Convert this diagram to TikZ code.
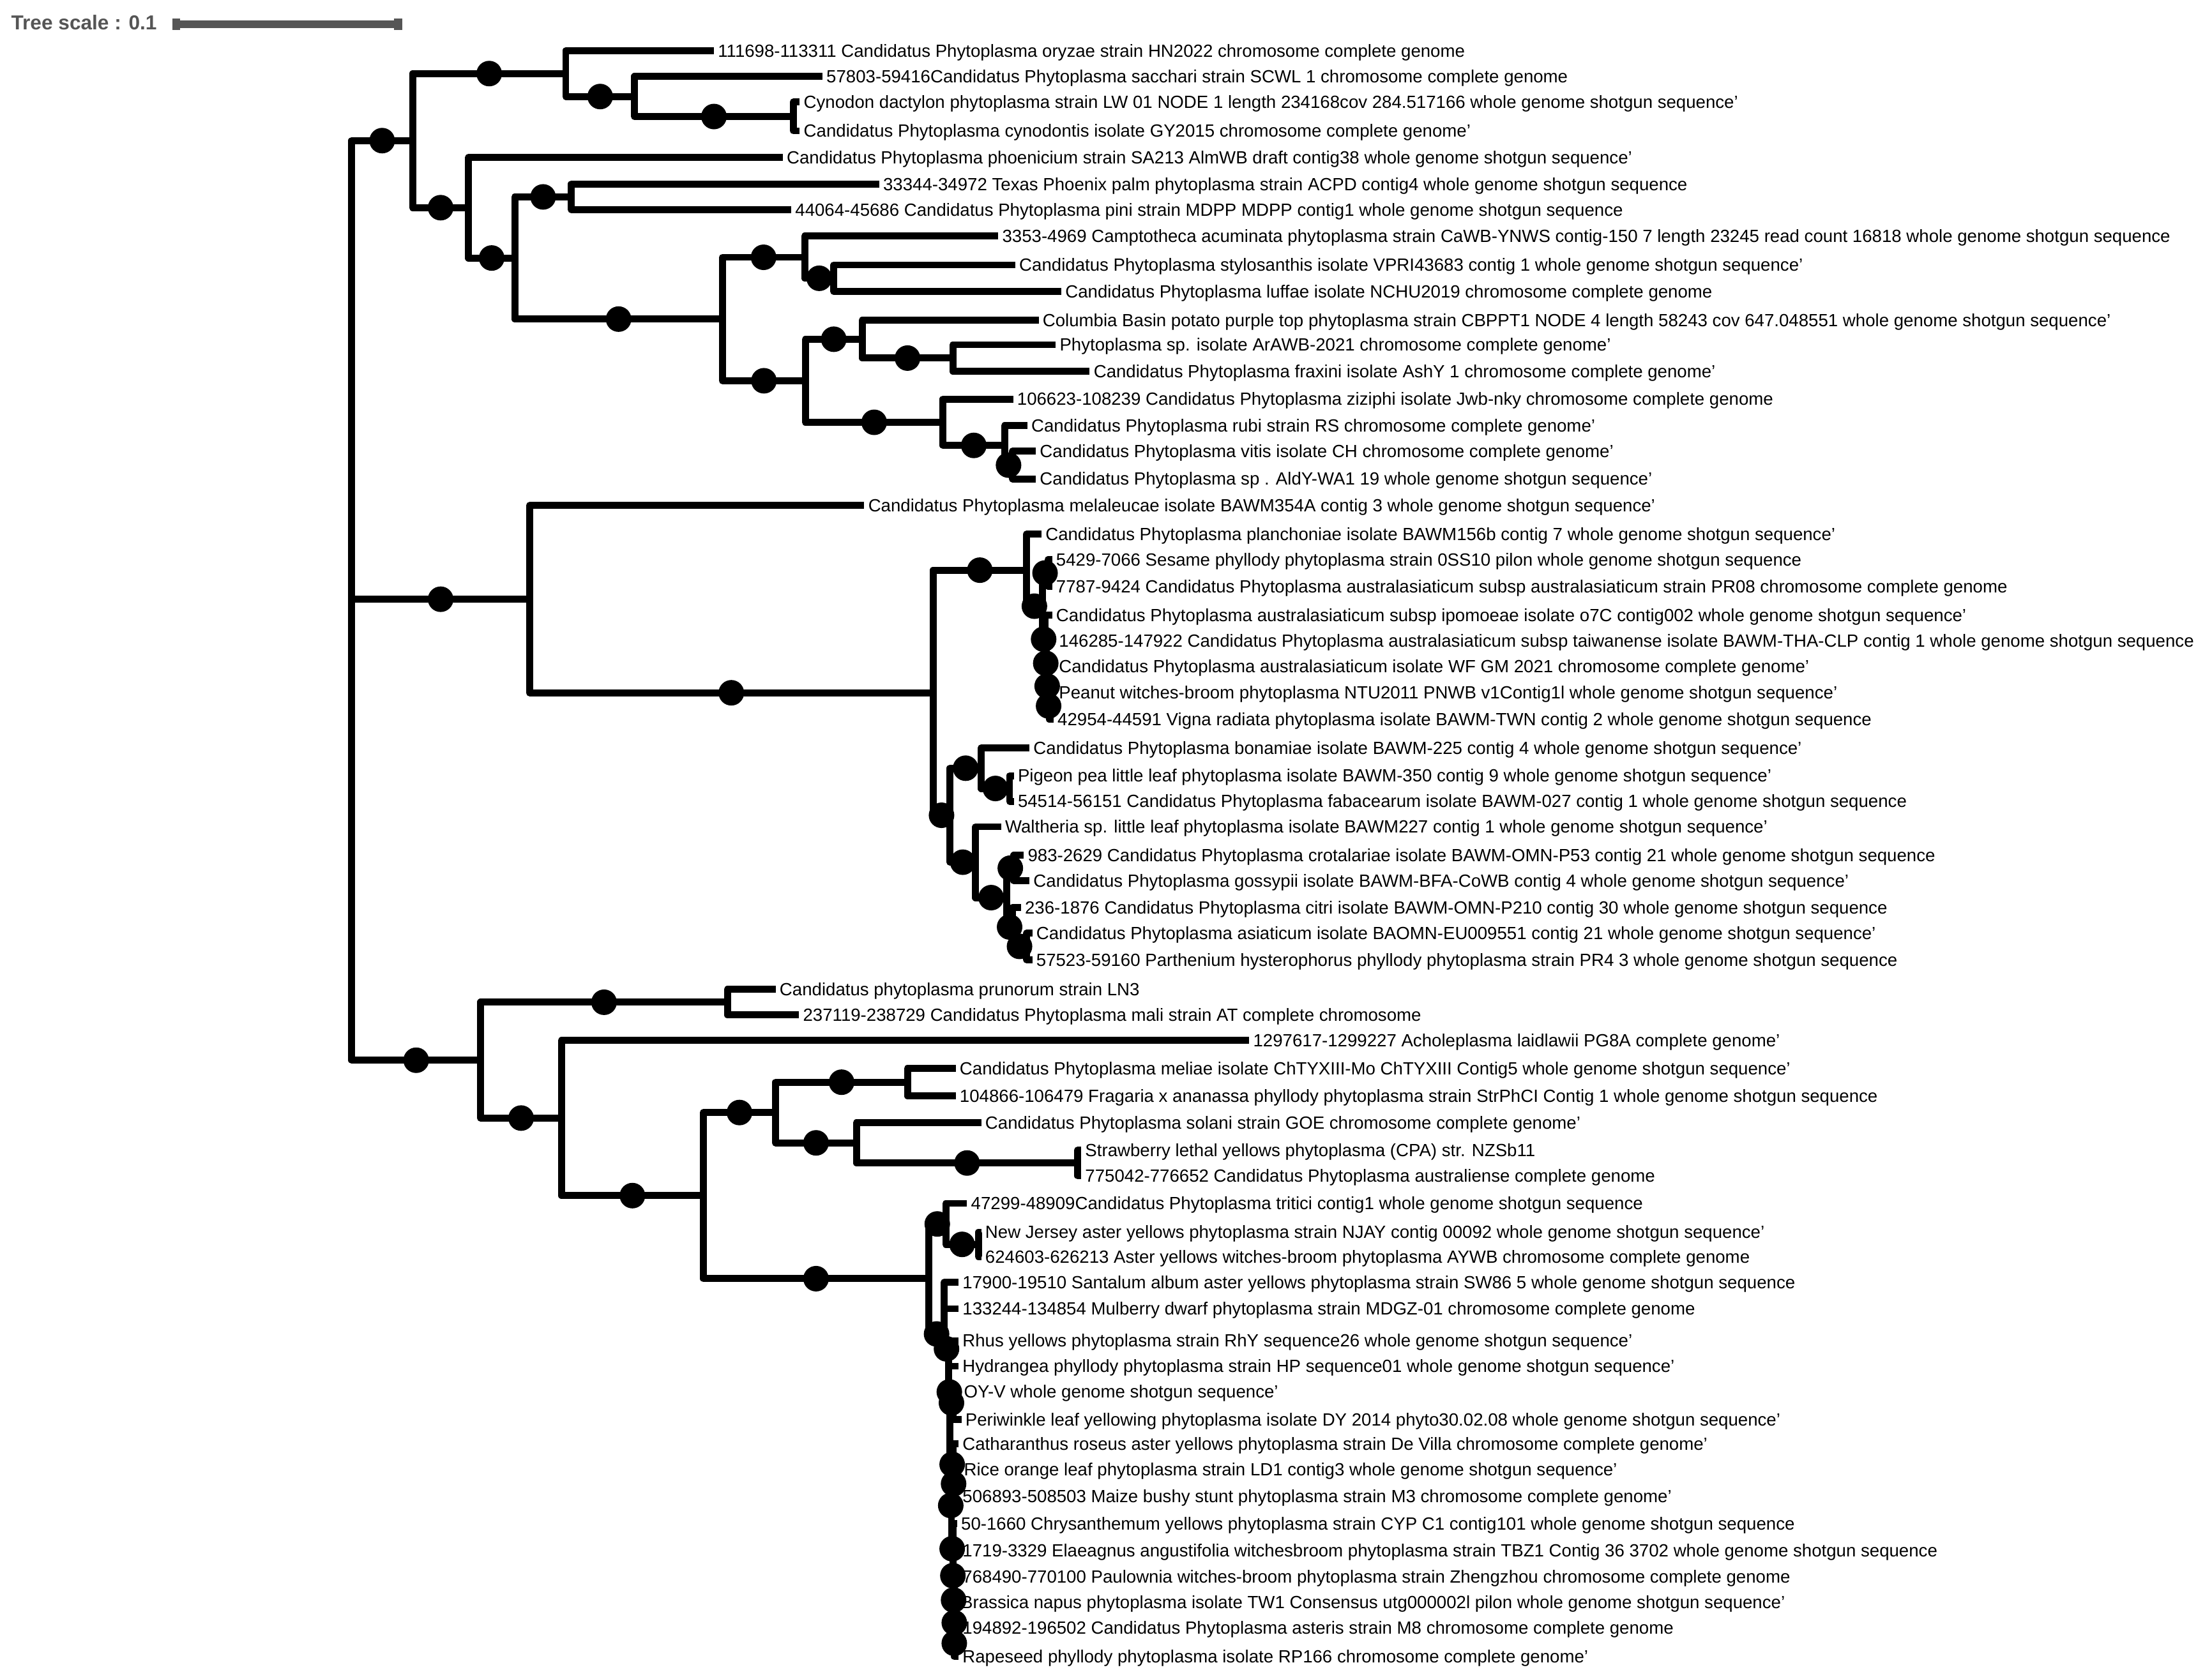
\documentclass[tikz,border=0pt]{standalone}
\usepackage{fontspec}
\setmainfont{Liberation Sans}
\definecolor{scalegray}{HTML}{555555}
\begin{document}
\begin{tikzpicture}[x=0.022205cm, y=-0.022205cm,
    br/.style={line width=3.1pt, line join=round},
    boot/.style={circle, fill=black, inner sep=0pt, minimum size=0.4cm, pos=0.75},
    leaf/.style={anchor=west, inner xsep=1.6pt, inner ysep=0pt, text height=5.6pt, text depth=0pt, font=\fontsize{7.86}{9}\selectfont}]
  \useasboundingbox (0,0) rectangle (1560,1184);

  % scale bar
  \node[anchor=base west, inner sep=0pt, text=scalegray, font=\bfseries\fontsize{9}{11}\selectfont] (tscale) at (7.6,21) {Tree scale : 0.1};
  \coordinate (sbl) at (124,17.3);
  \coordinate (sbr) at (281,17.3);
  \draw[line width=3.4pt, scalegray] (sbl) -- (sbr);
  \fill[scalegray] (121.6,13.2) rectangle (127,21);
  \fill[scalegray] (277.9,13.2) rectangle (283.5,21);

  % inner nodes
  \coordinate (root) at (248,422.7);
  \coordinate (nA) at (291,99.2);
  \coordinate (nA1) at (399,51.9);
  \coordinate (nA1b) at (447.5,68.1);
  \coordinate (nA1c) at (559.5,82.2);
  \coordinate (nA2) at (330.5,146.5);
  \coordinate (nA3) at (363,182);
  \coordinate (nA4) at (403,138.9);
  \coordinate (nA5) at (509.5,225.1);
  \coordinate (nA6) at (567.5,181.5);
  \coordinate (nA7) at (588,196.3);
  \coordinate (nA8) at (568,268.6);
  \coordinate (nA9) at (608,239.3);
  \coordinate (nA10) at (672,252.6);
  \coordinate (nA11) at (665,297.9);
  \coordinate (nA12) at (708.5,314.2);
  \coordinate (nA13) at (714,328.1);

  \coordinate (nB) at (373.5,422.7);
  \coordinate (nB1) at (658,488.7);
  \coordinate (nB2) at (724,402.2);
  \coordinate (nB2r) at (735,427.6);
  \coordinate (nB2p) at (739,404.2);
  \coordinate (nQ1) at (737,450.9);
  \coordinate (nQ2) at (738,467.9);
  \coordinate (nQ3) at (739,484);
  \coordinate (nQ4) at (740,498);
  \coordinate (nB3) at (670,575.1);
  \coordinate (nB3a) at (692,541.9);
  \coordinate (nB3ap) at (712,556.2);
  \coordinate (nB3b) at (688,608.2);
  \coordinate (nB3c) at (710,633.2);
  \coordinate (nB3d) at (715,612.4);
  \coordinate (nB3f) at (714,653.9);
  \coordinate (nB3e) at (724,667.6);

  \coordinate (nC) at (339,747.9);
  \coordinate (nC1) at (513,707);
  \coordinate (nC2) at (396,788.7);
  \coordinate (nC3) at (496,843.4);
  \coordinate (nC4) at (547,784.8);
  \coordinate (nC5) at (640,763.4);
  \coordinate (nC6) at (604,806.2);
  \coordinate (nC7) at (760,820.4);
  \coordinate (nC8) at (655,902);
  \coordinate (nC9) at (667,863.4);
  \coordinate (nC10) at (690,877.8);
  \coordinate (nC11) at (666,941);
  \coordinate (nAY1) at (669,951.5);
  \coordinate (nAY2) at (670,981.9);
  \coordinate (nAY3) at (672,989.6);
  \coordinate (nAY4) at (671,1062);
  \coordinate (nAY5) at (672,1033);
  \coordinate (nAY6) at (673,1046.7);
  \coordinate (nAY8) at (672,1092.5);
  \coordinate (nAY9) at (672,1111.5);
  \coordinate (nAY10) at (673,1128.7);
  \coordinate (nAY11) at (673,1144.7);
  \coordinate (nAY12) at (673,1159.2);

  % leaves
  \node[leaf] (oryzae) at (503.5,35.7) {111698-113311 Candidatus Phytoplasma oryzae strain HN2022 chromosome complete genome};
  \node[leaf] (sacchari) at (580,54) {57803-59416Candidatus Phytoplasma sacchari strain SCWL 1 chromosome complete genome};
  \node[leaf] (cynodon) at (564,72) {Cynodon dactylon phytoplasma strain LW 01 NODE 1 length 234168cov 284.517166 whole genome shotgun sequence'};
  \node[leaf] (cynodontis) at (564,92.3) {Candidatus Phytoplasma cynodontis isolate GY2015 chromosome complete genome'};
  \node[leaf] (phoenicium) at (552,111) {Candidatus Phytoplasma phoenicium strain SA213 AlmWB draft contig38 whole genome shotgun sequence'};
  \node[leaf] (texas) at (620,129.8) {33344-34972 Texas Phoenix palm phytoplasma strain ACPD contig4 whole genome shotgun sequence};
  \node[leaf] (pini) at (558,147.9) {44064-45686 Candidatus Phytoplasma pini strain MDPP MDPP contig1 whole genome shotgun sequence};
  \node[leaf] (camptotheca) at (704,166.6) {3353-4969 Camptotheca acuminata phytoplasma strain CaWB-YNWS contig-150 7 length 23245 read count 16818 whole genome shotgun sequence};
  \node[leaf] (stylosanthis) at (716,186.9) {Candidatus Phytoplasma stylosanthis isolate VPRI43683 contig 1 whole genome shotgun sequence'};
  \node[leaf] (luffae) at (748.5,205.6) {Candidatus Phytoplasma luffae isolate NCHU2019 chromosome complete genome};
  \node[leaf] (columbia) at (732.5,226) {Columbia Basin potato purple top phytoplasma strain CBPPT1 NODE 4 length 58243 cov 647.048551 whole genome shotgun sequence'};
  \node[leaf] (arawb) at (744.5,243.2) {Phytoplasma sp. isolate ArAWB-2021 chromosome complete genome'};
  \node[leaf] (fraxini) at (768.5,262) {Candidatus Phytoplasma fraxini isolate AshY 1 chromosome complete genome'};
  \node[leaf] (ziziphi) at (714.5,281.5) {106623-108239 Candidatus Phytoplasma ziziphi isolate Jwb-nky chromosome complete genome};
  \node[leaf] (rubi) at (724.5,300.3) {Candidatus Phytoplasma rubi strain RS chromosome complete genome'};
  \node[leaf] (vitis) at (730.5,318.3) {Candidatus Phytoplasma vitis isolate CH chromosome complete genome'};
  \node[leaf] (aldy) at (730.5,337.8) {Candidatus Phytoplasma sp . AldY-WA1 19 whole genome shotgun sequence'};

  \node[leaf] (melaleucae) at (609.5,356.6) {Candidatus Phytoplasma melaleucae isolate BAWM354A contig 3 whole genome shotgun sequence'};
  \node[leaf] (planchoniae) at (734.5,376.8) {Candidatus Phytoplasma planchoniae isolate BAWM156b contig 7 whole genome shotgun sequence'};
  \node[leaf] (sesame) at (742,394.8) {5429-7066 Sesame phyllody phytoplasma strain 0SS10 pilon whole genome shotgun sequence};
  \node[leaf] (pr08) at (742,413.6) {7787-9424 Candidatus Phytoplasma australasiaticum subsp australasiaticum strain PR08 chromosome complete genome};
  \node[leaf] (ipomoeae) at (742,433.8) {Candidatus Phytoplasma australasiaticum subsp ipomoeae isolate o7C contig002 whole genome shotgun sequence'};
  \node[leaf] (taiwanense) at (744,451.8) {146285-147922 Candidatus Phytoplasma australasiaticum subsp taiwanense isolate BAWM-THA-CLP contig 1 whole genome shotgun sequence};
  \node[leaf] (wfgm) at (744,469.9) {Candidatus Phytoplasma australasiaticum isolate WF GM 2021 chromosome complete genome'};
  \node[leaf] (peanut) at (744,488.6) {Peanut witches-broom phytoplasma NTU2011 PNWB v1Contig1l whole genome shotgun sequence'};
  \node[leaf] (vigna) at (743,507.4) {42954-44591 Vigna radiata phytoplasma isolate BAWM-TWN contig 2 whole genome shotgun sequence};
  \node[leaf] (bonamiae) at (726,527.6) {Candidatus Phytoplasma bonamiae isolate BAWM-225 contig 4 whole genome shotgun sequence'};
  \node[leaf] (pigeon) at (715,547.2) {Pigeon pea little leaf phytoplasma isolate BAWM-350 contig 9 whole genome shotgun sequence'};
  \node[leaf] (fabacearum) at (715,565.2) {54514-56151 Candidatus Phytoplasma fabacearum isolate BAWM-027 contig 1 whole genome shotgun sequence};
  \node[leaf] (waltheria) at (706,583.2) {Waltheria sp. little leaf phytoplasma isolate BAWM227 contig 1 whole genome shotgun sequence'};
  \node[leaf] (crotalariae) at (722,603.4) {983-2629 Candidatus Phytoplasma crotalariae isolate BAWM-OMN-P53 contig 21 whole genome shotgun sequence};
  \node[leaf] (gossypii) at (726,621.4) {Candidatus Phytoplasma gossypii isolate BAWM-BFA-CoWB contig 4 whole genome shotgun sequence'};
  \node[leaf] (citri) at (720,640.2) {236-1876 Candidatus Phytoplasma citri isolate BAWM-OMN-P210 contig 30 whole genome shotgun sequence};
  \node[leaf] (asiaticum) at (728,658.2) {Candidatus Phytoplasma asiaticum isolate BAOMN-EU009551 contig 21 whole genome shotgun sequence'};
  \node[leaf] (parthenium) at (728,677) {57523-59160 Parthenium hysterophorus phyllody phytoplasma strain PR4 3 whole genome shotgun sequence};

  \node[leaf] (prunorum) at (547,698) {Candidatus phytoplasma prunorum strain LN3};
  \node[leaf] (mali) at (563.5,716) {237119-238729 Candidatus Phytoplasma mali strain AT complete chromosome};
  \node[leaf] (acholeplasma) at (881,734) {1297617-1299227 Acholeplasma laidlawii PG8A complete genome'};
  \node[leaf] (meliae) at (674,753.6) {Candidatus Phytoplasma meliae isolate ChTYXIII-Mo ChTYXIII Contig5 whole genome shotgun sequence'};
  \node[leaf] (fragaria) at (674,773.1) {104866-106479 Fragaria x ananassa phyllody phytoplasma strain StrPhCI Contig 1 whole genome shotgun sequence};
  \node[leaf] (solani) at (692,791.9) {Candidatus Phytoplasma solani strain GOE chromosome complete genome'};
  \node[leaf] (strawberry) at (762.5,811.4) {Strawberry lethal yellows phytoplasma (CPA) str. NZSb11};
  \node[leaf] (australiense) at (762.5,829.4) {775042-776652 Candidatus Phytoplasma australiense complete genome};
  \node[leaf] (tritici) at (682,848.9) {47299-48909Candidatus Phytoplasma tritici contig1 whole genome shotgun sequence};
  \node[leaf] (njay) at (692,869.2) {New Jersey aster yellows phytoplasma strain NJAY contig 00092 whole genome shotgun sequence'};
  \node[leaf] (aywb) at (692,886.4) {624603-626213 Aster yellows witches-broom phytoplasma AYWB chromosome complete genome};
  \node[leaf] (santalum) at (676,904.5) {17900-19510 Santalum album aster yellows phytoplasma strain SW86 5 whole genome shotgun sequence};
  \node[leaf] (mulberry) at (676,923.2) {133244-134854 Mulberry dwarf phytoplasma strain MDGZ-01 chromosome complete genome};
  \node[leaf] (rhus) at (676,945.7) {Rhus yellows phytoplasma strain RhY sequence26 whole genome shotgun sequence'};
  \node[leaf] (hydrangea) at (676,963.7) {Hydrangea phyllody phytoplasma strain HP sequence01 whole genome shotgun sequence'};
  \node[leaf] (oyv) at (677,981.7) {OY-V whole genome shotgun sequence'};
  \node[leaf] (periwinkle) at (678,1001.3) {Periwinkle leaf yellowing phytoplasma isolate DY 2014 phyto30.02.08 whole genome shotgun sequence'};
  \node[leaf] (catharanthus) at (676,1018.5) {Catharanthus roseus aster yellows phytoplasma strain De Villa chromosome complete genome'};
  \node[leaf] (rice) at (677,1036.5) {Rice orange leaf phytoplasma strain LD1 contig3 whole genome shotgun sequence'};
  \node[leaf] (maize) at (676,1055.3) {506893-508503 Maize bushy stunt phytoplasma strain M3 chromosome complete genome'};
  \node[leaf] (chrysanthemum) at (675,1074.8) {50-1660 Chrysanthemum yellows phytoplasma strain CYP C1 contig101 whole genome shotgun sequence};
  \node[leaf] (elaeagnus) at (676,1093.6) {1719-3329 Elaeagnus angustifolia witchesbroom phytoplasma strain TBZ1 Contig 36 3702 whole genome shotgun sequence};
  \node[leaf] (paulownia) at (676,1112.3) {768490-770100 Paulownia witches-broom phytoplasma strain Zhengzhou chromosome complete genome};
  \node[leaf] (brassica) at (675,1130.3) {Brassica napus phytoplasma isolate TW1 Consensus utg000002l pilon whole genome shotgun sequence'};
  \node[leaf] (asteris) at (676,1148.4) {194892-196502 Candidatus Phytoplasma asteris strain M8 chromosome complete genome};
  \node[leaf] (rapeseed) at (676,1168.6) {Rapeseed phyllody phytoplasma isolate RP166 chromosome complete genome'};

  % branches
  \draw[br] (root) |- node[boot]{} (nA);
  \draw[br] (root) |- node[boot]{} (nB);
  \draw[br] (root) |- node[boot]{} (nC);

  \draw[br] (nA) |- node[boot]{} (nA1);
  \draw[br] (nA) |- node[boot]{} (nA2);
  \draw[br] (nA1) |- (oryzae.west);
  \draw[br] (nA1) |- node[boot]{} (nA1b);
  \draw[br] (nA1b) |- (sacchari.west);
  \draw[br] (nA1b) |- node[boot]{} (nA1c);
  \draw[br] (nA1c) |- (cynodon.west);
  \draw[br] (nA1c) |- (cynodontis.west);
  \draw[br] (nA2) |- (phoenicium.west);
  \draw[br] (nA2) |- node[boot]{} (nA3);
  \draw[br] (nA3) |- node[boot]{} (nA4);
  \draw[br] (nA3) |- node[boot]{} (nA5);
  \draw[br] (nA4) |- (texas.west);
  \draw[br] (nA4) |- (pini.west);
  \draw[br] (nA5) |- node[boot]{} (nA6);
  \draw[br] (nA5) |- node[boot]{} (nA8);
  \draw[br] (nA6) |- (camptotheca.west);
  \draw[br] (nA6) |- node[boot]{} (nA7);
  \draw[br] (nA7) |- (stylosanthis.west);
  \draw[br] (nA7) |- (luffae.west);
  \draw[br] (nA8) |- node[boot]{} (nA9);
  \draw[br] (nA8) |- node[boot]{} (nA11);
  \draw[br] (nA9) |- (columbia.west);
  \draw[br] (nA9) |- node[boot]{} (nA10);
  \draw[br] (nA10) |- (arawb.west);
  \draw[br] (nA10) |- (fraxini.west);
  \draw[br] (nA11) |- (ziziphi.west);
  \draw[br] (nA11) |- node[boot]{} (nA12);
  \draw[br] (nA12) |- (rubi.west);
  \draw[br] (nA12) |- node[boot]{} (nA13);
  \draw[br] (nA13) |- (vitis.west);
  \draw[br] (nA13) |- (aldy.west);

  \draw[br] (nB) |- (melaleucae.west);
  \draw[br] (nB) |- node[boot]{} (nB1);
  \draw[br] (nB1) |- node[boot]{} (nB2);
  \draw[br] (nB1) |- node[boot]{} (nB3);
  \draw[br] (nB2) |- (planchoniae.west);
  \draw[br] (nB2) |- node[boot]{} (nB2r);
  \draw[br] (nB2r) |- node[boot]{} (nB2p);
  \draw[br] (nB2r) |- node[boot]{} (nQ1);
  \draw[br] (nB2p) |- (sesame.west);
  \draw[br] (nB2p) |- (pr08.west);
  \draw[br] (nQ1) |- (ipomoeae.west);
  \draw[br] (nQ1) |- node[boot]{} (nQ2);
  \draw[br] (nQ2) |- (taiwanense.west);
  \draw[br] (nQ2) |- node[boot]{} (nQ3);
  \draw[br] (nQ3) |- (wfgm.west);
  \draw[br] (nQ3) |- node[boot]{} (nQ4);
  \draw[br] (nQ4) |- (peanut.west);
  \draw[br] (nQ4) |- (vigna.west);
  \draw[br] (nB3) |- node[boot]{} (nB3a);
  \draw[br] (nB3) |- node[boot]{} (nB3b);
  \draw[br] (nB3a) |- (bonamiae.west);
  \draw[br] (nB3a) |- node[boot]{} (nB3ap);
  \draw[br] (nB3ap) |- (pigeon.west);
  \draw[br] (nB3ap) |- (fabacearum.west);
  \draw[br] (nB3b) |- (waltheria.west);
  \draw[br] (nB3b) |- node[boot]{} (nB3c);
  \draw[br] (nB3c) |- node[boot]{} (nB3d);
  \draw[br] (nB3c) |- node[boot]{} (nB3f);
  \draw[br] (nB3d) |- (crotalariae.west);
  \draw[br] (nB3d) |- (gossypii.west);
  \draw[br] (nB3f) |- (citri.west);
  \draw[br] (nB3f) |- node[boot]{} (nB3e);
  \draw[br] (nB3e) |- (asiaticum.west);
  \draw[br] (nB3e) |- (parthenium.west);

  \draw[br] (nC) |- node[boot]{} (nC1);
  \draw[br] (nC) |- node[boot]{} (nC2);
  \draw[br] (nC1) |- (prunorum.west);
  \draw[br] (nC1) |- (mali.west);
  \draw[br] (nC2) |- (acholeplasma.west);
  \draw[br] (nC2) |- node[boot]{} (nC3);
  \draw[br] (nC3) |- node[boot]{} (nC4);
  \draw[br] (nC3) |- node[boot]{} (nC8);
  \draw[br] (nC4) |- node[boot]{} (nC5);
  \draw[br] (nC4) |- node[boot]{} (nC6);
  \draw[br] (nC5) |- (meliae.west);
  \draw[br] (nC5) |- (fragaria.west);
  \draw[br] (nC6) |- (solani.west);
  \draw[br] (nC6) |- node[boot]{} (nC7);
  \draw[br] (nC7) |- (strawberry.west);
  \draw[br] (nC7) |- (australiense.west);
  \draw[br] (nC8) |- node[boot]{} (nC9);
  \draw[br] (nC8) |- node[boot]{} (nC11);
  \draw[br] (nC9) |- (tritici.west);
  \draw[br] (nC9) |- node[boot]{} (nC10);
  \draw[br] (nC10) |- (njay.west);
  \draw[br] (nC10) |- (aywb.west);
  \draw[br] (nC11) |- (santalum.west);
  \draw[br] (nC11) |- (mulberry.west);
  \draw[br] (nC11) |- node[boot]{} (nAY1);
  \draw[br] (nAY1) |- (rhus.west);
  \draw[br] (nAY1) |- (hydrangea.west);
  \draw[br] (nAY1) |- node[boot]{} (nAY2);
  \draw[br] (nAY2) |- node[boot]{} (nAY3);
  \draw[br] (nAY2) |- node[boot]{} (nAY4);
  \draw[br] (nAY3) |- (oyv.west);
  \draw[br] (nAY3) |- (periwinkle.west);
  \draw[br] (nAY4) |- node[boot]{} (nAY5);
  \draw[br] (nAY4) |- node[boot]{} (nAY8);
  \draw[br] (nAY5) |- (catharanthus.west);
  \draw[br] (nAY5) |- node[boot]{} (nAY6);
  \draw[br] (nAY6) |- (rice.west);
  \draw[br] (nAY6) |- (maize.west);
  \draw[br] (nAY8) |- (chrysanthemum.west);
  \draw[br] (nAY8) |- node[boot]{} (nAY9);
  \draw[br] (nAY9) |- (elaeagnus.west);
  \draw[br] (nAY9) |- node[boot]{} (nAY10);
  \draw[br] (nAY10) |- (paulownia.west);
  \draw[br] (nAY10) |- node[boot]{} (nAY11);
  \draw[br] (nAY11) |- (brassica.west);
  \draw[br] (nAY11) |- node[boot]{} (nAY12);
  \draw[br] (nAY12) |- (asteris.west);
  \draw[br] (nAY12) |- (rapeseed.west);
\end{tikzpicture}
\end{document}
